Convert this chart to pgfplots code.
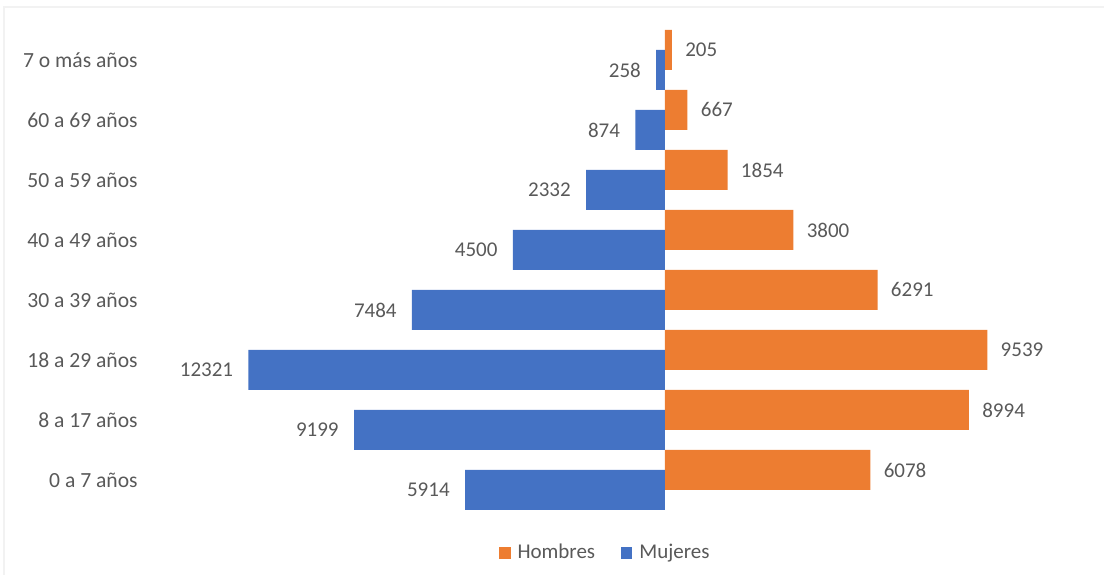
\documentclass[border=0pt]{standalone}
\usepackage{pgfplots}
\pgfplotsset{compat=1.18}
\usepackage{fontspec}
\setmainfont{Carlito}
\definecolor{hom}{HTML}{ED7D31}
\definecolor{muj}{HTML}{4472C4}
\definecolor{txt}{HTML}{595959}
\begin{document}
\fontsize{10.5pt}{12pt}\selectfont
\begin{tikzpicture}
\begin{axis}[
  xbar,
  scale only axis,
  width=474.9pt, height=252pt,
  xmin=-15500, xmax=12600,
  ymin=-0.7, ymax=7.7,
  axis line style={draw=none},
  major tick length=0pt,
  xtick=\empty,
  ytick={0,1,2,3,4,5,6,7},
  yticklabels={0 a 7 años, 8 a 17 años, 18 a 29 años, 30 a 39 años, 40 a 49 años, 50 a 59 años, 60 a 69 años, 7 o más años},
  yticklabel style={font=\fontsize{10.8pt}{12pt}\selectfont, text=txt, anchor=east, inner sep=1.5pt},
  bar width=0.6667,
  point meta=explicit symbolic,
  nodes near coords,
  nodes near coords style={font=\fontsize{10.5pt}{12pt}\selectfont, text=txt, inner sep=0pt},
  clip=false,
  legend style={at={(0.49,0)}, anchor=center, yshift=-15.5pt, draw=none, font=\fontsize{10.5pt}{12pt}\selectfont, text=txt, legend columns=2,
    /tikz/every odd column/.append style={column sep=1.5pt},
    /tikz/every even column/.append style={column sep=11pt}},
  legend image code/.code={\fill[#1] (0pt,-2.8pt) rectangle (5.6pt,2.8pt);},
]
\addplot[fill=hom, draw=none, bar shift=0.1667,
  nodes near coords style={anchor=west, xshift=6.5pt}] coordinates {
  (6078,0) [6078] (8994,1) [8994] (9539,2) [9539] (6291,3) [6291]
  (3800,4) [3800] (1854,5) [1854] (667,6) [667] (205,7) [205]
};
\addlegendentry{Hombres}
\addplot[fill=muj, draw=none, bar shift=-0.1667,
  nodes near coords style={anchor=east, xshift=-7.5pt}] coordinates {
  (-5914,0) [5914] (-9199,1) [9199] (-12321,2) [12321] (-7484,3) [7484]
  (-4500,4) [4500] (-2332,5) [2332] (-874,6) [874] (-258,7) [258]
};
\addlegendentry{Mujeres}
\path[use as bounding box] (rel axis cs:-0.1485,-0.1052) rectangle (rel axis cs:1.0139,1.0357);
\draw[black!5, line width=0.8pt] (rel axis cs:-0.1440,-0.1052) -- (rel axis cs:-0.1440,1.0218) -- (rel axis cs:1.0139,1.0218);
\end{axis}
\end{tikzpicture}
\end{document}
